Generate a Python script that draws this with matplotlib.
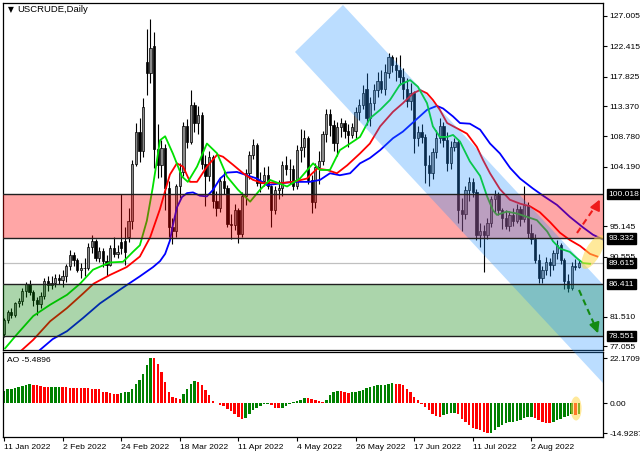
import matplotlib
matplotlib.use("Agg")
import matplotlib.pyplot as plt
from matplotlib.patches import Polygon, Ellipse
from matplotlib.transforms import Affine2D, ScaledTranslation, blended_transform_factory

plt.rcParams['font.family'] = ['Liberation Sans', 'DejaVu Sans']

# ---- daily candles (USCRUDE), 11 Jan 2022 .. 19 Aug 2022 ----
opens = [78.9, 81.0, 82.2, 81.7, 83.5, 83.9, 85.4, 86.5, 85.2, 84.0,
         83.4, 84.6, 86.9, 86.3, 86.6, 87.4, 87.1, 87.6, 89.1, 90.9,
         90.0, 88.6, 88.9, 88.8, 92.1, 92.9, 90.4, 91.5, 89.9, 89.3,
         91.9, 91.0, 92.8, 92.9, 93.5, 96.0, 104.6, 109.5, 106.5, 120.1,
         118.3, 122.5, 106.8, 104.5, 107.0, 101.0, 95.0, 94.4, 101.2, 103.4,
         110.4, 108.0, 113.5, 110.8, 112.0, 104.6, 102.8, 105.6, 99.0, 98.0,
         102.1, 100.9, 95.5, 95.3, 97.6, 94.0, 99.8, 103.3, 106.0, 107.5,
         101.8, 102.0, 103.0, 101.2, 97.6, 100.7, 101.0, 104.4, 103.8, 103.9,
         101.3, 106.7, 107.2, 108.6, 102.2, 98.8, 104.2, 105.1, 109.2, 112.2,
         110.5, 107.8, 110.2, 110.8, 109.6, 109.0, 109.6, 112.4, 113.6, 116.0,
         111.6, 113.8, 115.8, 117.1, 116.0, 118.3, 120.8, 119.6, 118.9, 117.8,
         115.9, 114.2, 115.3, 108.5, 109.4, 108.7, 104.4, 103.2, 106.4, 108.6,
         110.4, 108.3, 104.7, 107.2, 108.0, 97.6, 97.0, 100.6, 101.9, 100.4,
         93.9, 94.5, 93.9, 95.6, 99.3, 99.9, 97.6, 96.4, 95.2, 96.9,
         96.0, 97.8, 96.3, 98.4, 94.2, 93.2, 90.1, 87.4, 88.6, 89.8,
         89.3, 91.1, 92.3, 90.0, 86.9, 85.9, 89.2, 89.0]
highs = [81.3, 82.5, 82.8, 83.7, 84.3, 85.9, 86.8, 87.0, 85.6, 84.5,
         85.3, 87.4, 87.6, 87.6, 88.0, 87.9, 88.5, 89.5, 91.6, 91.3,
         90.4, 89.6, 90.3, 92.6, 93.9, 93.3, 92.0, 91.9, 90.8, 92.4,
         93.5, 92.3, 100.0, 95.1, 97.9, 105.2, 110.8, 111.5, 114.6, 125.1,
         126.5, 124.6, 110.6, 108.3, 107.6, 102.0, 96.5, 101.6, 104.8, 111.0,
         111.4, 115.8, 114.0, 113.4, 112.5, 106.0, 106.5, 106.0, 100.5, 102.6,
         103.6, 101.4, 97.0, 98.6, 98.0, 100.4, 103.8, 106.6, 108.4, 107.8,
         103.4, 104.2, 104.3, 101.4, 101.2, 102.2, 105.0, 105.8, 105.3, 104.5,
         107.5, 109.9, 109.8, 108.9, 103.0, 104.8, 106.5, 109.6, 112.9, 113.0,
         111.2, 111.0, 111.5, 111.3, 110.7, 110.8, 113.2, 114.5, 116.5, 118.4,
         114.8, 116.7, 118.5, 118.9, 119.8, 121.4, 121.1, 120.8, 121.1, 119.2,
         117.6, 116.8, 115.6, 110.3, 110.6, 109.1, 106.0, 107.0, 109.7, 111.6,
         111.0, 109.4, 108.1, 108.6, 108.4, 99.4, 101.2, 102.7, 102.5, 100.8,
         95.6, 95.3, 96.4, 99.8, 100.6, 100.4, 98.0, 97.6, 97.5, 98.0,
         98.6, 98.3, 101.2, 98.8, 95.5, 94.0, 91.0, 89.2, 90.6, 90.4,
         91.6, 93.1, 92.6, 90.3, 88.0, 89.8, 90.2, 90.0]
lows = [78.4, 80.6, 81.3, 81.4, 83.0, 83.3, 84.5, 84.8, 83.1, 81.8,
        82.8, 84.2, 85.4, 85.7, 86.0, 86.4, 86.0, 86.8, 88.6, 89.2,
        88.3, 87.4, 87.6, 88.5, 91.2, 89.9, 89.8, 89.0, 87.6, 89.1,
        90.6, 90.4, 91.0, 89.3, 92.8, 94.8, 104.3, 104.9, 105.7, 115.0,
        116.8, 104.0, 102.5, 102.6, 97.6, 93.5, 92.5, 93.5, 99.5, 102.8,
        107.0, 107.6, 109.5, 109.2, 103.8, 98.2, 102.0, 98.0, 96.8, 97.3,
        100.0, 95.0, 93.3, 94.6, 92.7, 93.6, 98.4, 102.4, 105.4, 101.2,
        100.4, 101.2, 100.8, 95.1, 97.0, 99.3, 99.8, 102.9, 101.6, 100.6,
        100.8, 104.9, 105.6, 101.6, 97.2, 98.0, 101.6, 104.4, 108.0, 108.8,
        106.6, 105.8, 108.7, 108.5, 107.2, 108.6, 108.5, 111.2, 113.0, 110.5,
        110.4, 112.7, 114.8, 115.4, 115.0, 117.6, 118.5, 117.2, 116.6, 114.5,
        113.3, 112.8, 106.2, 107.4, 107.8, 101.7, 101.3, 102.4, 105.5, 107.8,
        107.2, 103.5, 103.8, 106.6, 95.6, 94.5, 96.3, 99.0, 99.6, 93.1,
        92.0, 88.3, 93.2, 95.0, 97.4, 96.9, 94.8, 94.7, 94.4, 95.2,
        95.6, 95.2, 95.8, 93.4, 92.5, 89.6, 86.6, 86.6, 87.8, 87.7,
        88.5, 90.2, 89.5, 85.7, 85.3, 85.6, 88.6, 88.8]
closes = [81.0, 82.2, 81.7, 83.5, 83.9, 85.4, 86.5, 85.2, 84.0, 83.4,
          84.6, 86.9, 86.3, 86.6, 87.4, 87.1, 87.6, 89.1, 90.9, 90.0,
          88.6, 88.9, 88.8, 92.1, 92.9, 90.4, 91.5, 89.9, 89.3, 91.9,
          91.0, 91.3, 91.9, 91.3, 96.0, 104.6, 109.5, 106.5, 113.3, 118.3,
          122.1, 106.8, 104.5, 107.0, 101.0, 95.0, 94.4, 101.2, 103.4, 110.4,
          108.0, 113.5, 110.8, 112.0, 104.6, 102.8, 105.6, 99.0, 98.0, 102.1,
          100.9, 95.5, 95.3, 97.6, 94.0, 99.8, 103.3, 106.0, 107.5, 101.8,
          102.0, 103.0, 101.2, 97.6, 100.7, 101.0, 104.4, 103.8, 103.9, 101.3,
          106.7, 107.2, 108.6, 102.2, 98.8, 104.2, 105.1, 109.2, 112.2, 110.5,
          107.8, 110.2, 110.8, 109.6, 109.0, 110.2, 112.4, 113.6, 115.4, 111.6,
          113.8, 115.8, 117.1, 116.0, 118.6, 120.8, 119.6, 118.9, 117.8, 115.9,
          114.2, 115.3, 108.5, 109.4, 108.7, 104.4, 103.2, 106.4, 108.6, 110.4,
          108.3, 104.7, 107.2, 108.0, 97.6, 97.0, 100.6, 101.9, 100.4, 93.9,
          94.5, 93.9, 95.6, 99.3, 99.9, 97.6, 96.4, 95.2, 96.9, 96.0,
          97.8, 96.3, 98.4, 94.2, 93.2, 90.1, 87.4, 88.6, 89.8, 89.3,
          91.1, 92.3, 90.0, 86.9, 85.9, 89.2, 89.0, 89.615]

# Alligator lines (bar index, price), shifted forward
lips_x = [0.3, 3.5, 8.0, 12.6, 17.2, 20.8, 24.3, 28.9, 32.5, 35.2, 37.1, 39.0, 40.6, 41.5, 42.6, 44.0,
          46.1, 48.6, 50.2, 52.7, 55.4, 58.2, 60.9, 63.9, 67.2, 69.9, 72.6, 77.3, 80.8, 84.4, 86.3,
          89.0, 91.7, 94.5, 97.2, 99.9, 102.7, 105.4, 108.1, 110.9, 113.0, 115.5, 117.1, 119.0, 121.0,
          122.6, 124.5, 127.2, 130.0, 131.9, 133.5, 134.6, 137.3, 140.1, 142.8, 145.5, 148.3, 149.9,
          151.8, 154.5, 156.5, 158.1, 160.0]
lips_y = [76.7, 78.8, 81.6, 83.3, 84.8, 86.5, 88.6, 89.7, 89.8, 91.3, 92.3, 96.0, 101.0, 104.2, 108.2, 108.8,
          106.2, 102.7, 101.9, 104.2, 107.7, 106.2, 102.7, 100.7, 98.9, 100.7, 102.2, 101.2, 102.4, 104.7, 103.7,
          103.7, 106.7, 107.7, 108.7, 111.5, 112.8, 114.3, 116.6, 117.3, 116.3, 113.8, 110.3, 108.7, 108.7,
          109.0, 108.0, 105.0, 102.8, 99.7, 97.6, 96.9, 97.4, 97.1, 96.6, 96.1, 94.4, 92.9,
          91.8, 91.3, 90.3, 89.6, 89.5]
teeth_x = [4.9, 8.0, 12.6, 17.2, 21.6, 24.5, 28.9, 33.5, 37.1, 39.9, 42.6, 44.5, 45.3, 47.2, 48.9, 50.8,
           52.7, 55.4, 58.2, 59.8, 62.5, 65.3, 68.0, 70.7, 72.6, 75.4, 78.9, 82.7, 85.5, 88.2, 90.9,
           93.7, 97.2, 99.9, 102.7, 106.2, 108.9, 111.7, 113.6, 115.5, 117.1, 119.0, 121.0, 123.7, 126.4,
           129.1, 130.8, 132.7, 135.4, 138.1, 140.9, 143.6, 146.3, 149.1, 151.8, 154.5, 157.3, 160.0, 162.0]
teeth_y = [76.45, 78.0, 80.8, 82.8, 85.0, 86.5, 87.8, 89.0, 90.6, 93.5, 97.8, 101.5, 103.0, 104.7, 104.2, 101.9,
           101.9, 104.2, 106.0, 105.7, 104.5, 103.2, 102.2, 101.7, 101.8, 101.7, 101.9, 102.4, 103.9, 103.7, 103.2,
           104.4, 106.2, 107.7, 110.3, 112.5, 113.8, 115.3, 115.8, 115.3, 114.3, 112.8, 110.8, 110.0, 109.2,
           107.2, 105.2, 103.2, 100.8, 99.2, 98.6, 98.2, 97.3, 95.8, 94.2, 93.1, 92.2, 91.0, 90.6]
jaw_x = [9.8, 13.3, 17.2, 21.6, 26.2, 32.5, 37.1, 40.7, 42.6, 44.0, 45.3, 46.1, 47.2, 48.6, 50.0, 51.6,
         53.5, 55.4, 57.1, 59.0, 60.9, 63.6, 66.3, 69.1, 71.8, 74.5, 78.9, 83.5, 86.3, 89.0, 91.7,
         94.5, 97.2, 99.9, 102.7, 106.2, 108.9, 111.7, 115.5, 118.2, 119.9, 122.6, 124.5, 127.2, 130.0,
         132.7, 135.4, 138.2, 140.9, 144.4, 147.2, 151.0, 154.5, 158.1, 160.8, 162.7, 165.0]
jaw_y = [76.45, 78.1, 79.3, 81.3, 83.5, 85.9, 87.6, 89.0, 89.9, 91.0, 93.0, 95.3, 98.0, 99.6, 100.2, 100.3,
         99.8, 99.7, 100.7, 102.4, 103.3, 103.4, 102.9, 102.4, 101.4, 101.6, 101.9, 101.9, 102.2, 103.2, 102.9,
         103.2, 104.7, 105.5, 106.7, 108.5, 109.5, 110.9, 112.8, 113.4, 113.0, 111.8, 110.8, 110.7, 109.8,
         107.7, 106.2, 104.0, 102.4, 100.9, 99.8, 98.4, 96.6, 95.0, 93.9, 93.4, 92.8]

# Awesome Oscillator
ao = [5.9, 6.7, 7.1, 7.4, 7.9, 8.5, 8.9, 9.2, 9.0, 8.7,
      8.4, 8.0, 7.7, 7.9, 8.0, 8.05, 7.9, 7.7, 7.6, 7.55,
      7.5, 7.4, 7.3, 7.2, 7.1, 7.0, 6.9, 5.6, 5.2, 4.9,
      4.6, 4.5, 4.8, 5.2, 5.6, 6.9, 9.4, 11.5, 14.4, 18.5,
      22.17, 22.0, 19.2, 15.1, 10.2, 5.4, 3.0, 2.3, 2.1, 4.6,
      7.1, 9.5, 10.8, 10.3, 8.7, 6.2, 3.8, 0.8, -0.1, -0.8,
      -1.6, -2.8, -3.9, -5.3, -6.9, -7.9, -7.2, -5.6, -3.6, -2.3,
      -1.3, -0.7, -0.3, -1.1, -2.3, -2.6, -2.3, -1.3, -0.3, 0.3,
      1.0, 1.6, 2.6, 2.4, 1.8, 1.5, 1.2, 0.5, 1.3, 3.8,
      5.4, 5.9, 5.7, 5.4, 5.0, 5.3, 5.6, 6.1, 6.6, 7.4,
      7.9, 8.4, 8.7, 8.8, 9.0, 9.5, 10.0, 9.5, 9.3, 8.7,
      7.1, 5.4, 3.0, 1.3, -0.3, -2.0, -3.6, -5.3, -6.6, -6.9,
      -6.1, -5.3, -4.9, -4.8, -5.6, -7.7, -9.4, -11.0, -12.2, -13.0,
      -13.5, -14.3, -14.93, -14.6, -13.3, -12.0, -10.8, -9.9, -9.4, -9.2,
      -9.0, -8.5, -7.4, -6.9, -6.8, -7.2, -8.2, -9.2, -9.7, -10.0,
      -9.4, -8.5, -7.7, -7.0, -6.3, -5.6, -5.8, -5.49]

date_ticks = [0, 16, 32, 48, 64, 80, 96, 112, 128, 144]
date_labels = ['11 Jan 2022', '2 Feb 2022', '24 Feb 2022', '18 Mar 2022', '11 Apr 2022',
               '4 May 2022', '26 May 2022', '17 Jun 2022', '11 Jul 2022', '2 Aug 2022']
price_ticks = [127.005, 122.415, 117.825, 113.370, 108.780, 104.190, 95.145, 90.555, 81.510, 77.055]
level_marks = [100.018, 93.332, 89.615, 86.411, 78.551]
resistance = (93.332, 100.018)
support = (78.551, 86.411)
last_price = 89.615

FS = 6.1
W, H = 640, 457
fig = plt.figure(figsize=(W / 100, H / 100), dpi=100)
ax = fig.add_axes([3 / W, 1 - 350 / H, 600 / W, 347 / H])
ax2 = fig.add_axes([3 / W, 1 - 437 / H, 600 / W, 85 / H])
ax.set_zorder(2)
ax2.set_zorder(1)

idx = list(range(len(closes)))

# candles
ax.axhline(last_price, color='#c0c0c0', lw=0.9, zorder=1)
ax.vlines(idx, lows, highs, color='black', lw=0.8, zorder=2)
body_lo = [min(o, c) for o, c in zip(opens, closes)]
body_h = [max(abs(c - o), 0.12) for o, c in zip(opens, closes)]
body_col = ['#8a8a8a' if c >= o else 'black' for o, c in zip(opens, closes)]
ax.bar(idx, body_h, bottom=body_lo, width=0.62, color=body_col,
       edgecolor='black', linewidth=0.5, zorder=2.5)

# alligator
ax.plot(jaw_x, jaw_y, color='#0000ff', lw=1.3, zorder=3)
ax.plot(teeth_x, teeth_y, color='#ff0000', lw=1.3, zorder=3)
ax.plot(lips_x, lips_y, color='#00e000', lw=1.3, zorder=3)

# zones
ax.axhspan(*resistance, color='#ff0000', alpha=0.35, lw=0, zorder=4)
ax.axhspan(*support, color='#008000', alpha=0.33, lw=0, zorder=4)
for lv in resistance + support:
    ax.axhline(lv, color='#202020', lw=1.0, zorder=6)

# descending channel
chan = Polygon([(92.56, 128.67), (163.55, 86.36), (163.55, 71.45), (79.45, 121.56)],
               closed=True, facecolor='#1e90ff', alpha=0.3, lw=0, zorder=5, clip_on=False)
ax.add_patch(chan)

# forecast arrows
ax.plot([156.45, 162.2], [94.16, 98.8], color='#ee1c1c', lw=1.5, ls=(0, (3, 2)), zorder=7)
ax.annotate('', xy=(163.0, 99.61), xytext=(161.6, 98.0),
            arrowprops=dict(arrowstyle='-|>,head_length=0.6,head_width=0.3', color='#ee1c1c', lw=1.5),
            zorder=7, annotation_clip=False)
ax.plot([157.0, 161.9], [85.53, 79.4], color='#138a13', lw=1.5, ls=(0, (3, 2)), zorder=7)
ax.annotate('', xy=(162.46, 78.57), xytext=(161.4, 80.2),
            arrowprops=dict(arrowstyle='-|>,head_length=0.6,head_width=0.3', color='#138a13', lw=1.5),
            zorder=7, annotation_clip=False)

# highlight ellipses (sizes in pixels)
ax.add_patch(Ellipse((0, 0), 15, 38, angle=-30, facecolor='#ffd84a', alpha=0.55, lw=0, zorder=6,
                     transform=Affine2D() + ScaledTranslation(160.8, 91.28, ax.transData)))
ax2.add_patch(Ellipse((0, 0), 11, 24, facecolor='#ffd84a', alpha=0.55, lw=0, zorder=4,
                      transform=Affine2D() + ScaledTranslation(156.2, -2.7, ax2.transData)))

ax.set_xlim(-0.27, 163.55)
ax.set_ylim(76.45, 128.97)
ax.set_xticks([])
ax.yaxis.tick_right()
ax.set_yticks(price_ticks)
ax.set_yticklabels(['%.3f' % v for v in price_ticks])
ax.tick_params(axis='y', direction='out', length=3, width=0.8, pad=1.5, labelsize=FS)

bt = blended_transform_factory(ax.transAxes, ax.transData)
for lv in level_marks:
    ax.text(1.009, lv, '%.3f' % lv, transform=bt, ha='left', va='center', fontsize=FS,
            color='white', zorder=10, clip_on=False,
            bbox=dict(facecolor='black', edgecolor='black', pad=1.2))

ax.text(5 / 600, 1 - 7 / 347, '\u25bc', transform=ax.transAxes, fontsize=5.5,
        va='center', ha='left', family='DejaVu Sans')
ax.text(14 / 600, 1 - 7 / 347, 'USCRUDE,Daily', transform=ax.transAxes, fontsize=6.8,
        va='center', ha='left')

# AO panel
ao_col = ['#008000']
for k in range(1, len(ao)):
    ao_col.append('#008000' if ao[k] > ao[k - 1] else '#ff0000')
ax2.bar(idx, ao, width=0.68, color=ao_col, lw=0, zorder=2)
ax2.set_xlim(-0.27, 163.55)
ax2.set_ylim(-16.75, 25.13)
ax2.yaxis.tick_right()
ax2.set_yticks([22.1709, 0.0, -14.9287])
ax2.set_yticklabels(['22.1709', '0.00', '-14.9287'])
ax2.set_xticks(date_ticks)
ax2.set_xticklabels(date_labels, ha='left')
ax2.tick_params(axis='y', direction='out', length=3, width=0.8, pad=1.5, labelsize=FS)
ax2.tick_params(axis='x', direction='out', length=3, width=0.8, pad=2, labelsize=FS)
ax2.text(4 / 600, 1 - 9 / 85, 'AO -5.4896', transform=ax2.transAxes, fontsize=FS,
         va='center', ha='left')

for a in (ax, ax2):
    for s in a.spines.values():
        s.set_linewidth(0.9)
        s.set_color('black')

fig.savefig('out.png', dpi=100)
